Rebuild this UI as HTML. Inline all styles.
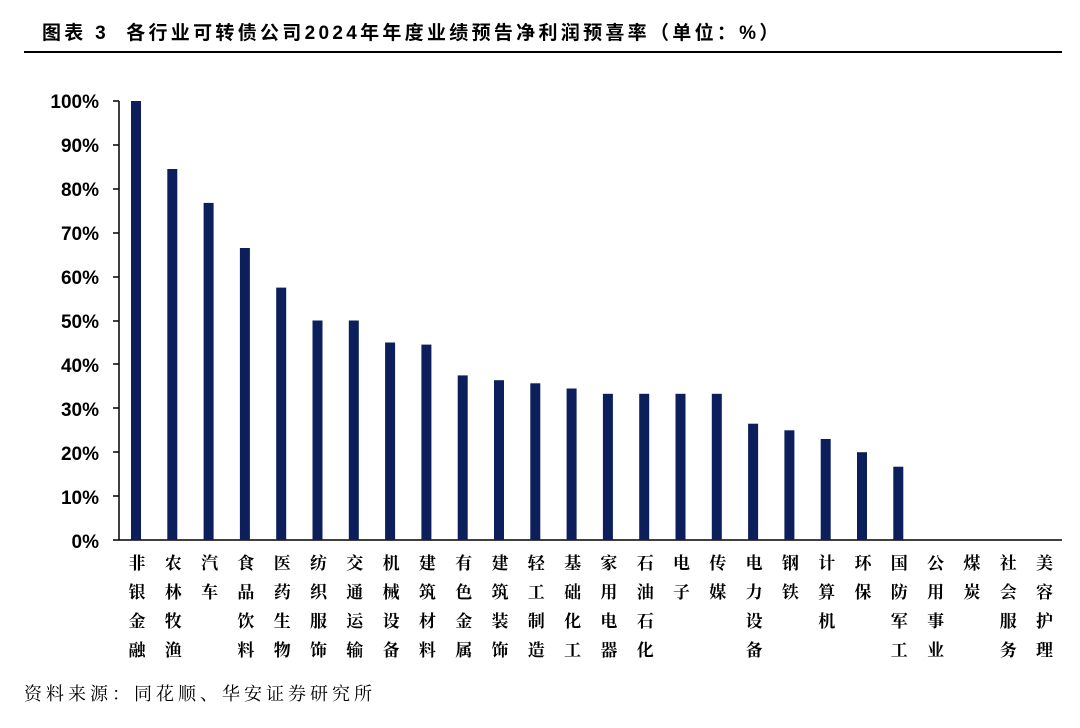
<!DOCTYPE html>
<html><head><meta charset="utf-8"><style>
body{margin:0;background:#fff;width:1080px;height:723px;overflow:hidden}
</style></head><body>
<svg width="1080" height="723" xmlns="http://www.w3.org/2000/svg">
<text x="42" y="39" font-family="'Liberation Sans','Noto Sans CJK SC',sans-serif" font-weight="bold" font-size="19" letter-spacing="3.3" fill="#000">图表 3&#160;&#160;各行业可转债公司2024年年度业绩预告净利润预喜率（单位：%）</text>
<line x1="24" y1="52" x2="1062" y2="52" stroke="#000" stroke-width="2"/>
<g font-family="'Liberation Sans',sans-serif" font-weight="bold" font-size="19" fill="#000" text-anchor="end">
<text x="99" y="108">100%</text><text x="99" y="152">90%</text><text x="99" y="196">80%</text><text x="99" y="240">70%</text><text x="99" y="284">60%</text><text x="99" y="328">50%</text><text x="99" y="372">40%</text><text x="99" y="416">30%</text><text x="99" y="460">20%</text><text x="99" y="504">10%</text><text x="99" y="548">0%</text>
</g>
<g stroke="#000" stroke-width="1.5">
<line x1="119" y1="101" x2="119" y2="540"/>
<line x1="113" y1="540" x2="1062" y2="540"/>
<line x1="113" y1="101" x2="119" y2="101"/><line x1="113" y1="145" x2="119" y2="145"/><line x1="113" y1="189" x2="119" y2="189"/><line x1="113" y1="233" x2="119" y2="233"/><line x1="113" y1="277" x2="119" y2="277"/><line x1="113" y1="321" x2="119" y2="321"/><line x1="113" y1="364" x2="119" y2="364"/><line x1="113" y1="408" x2="119" y2="408"/><line x1="113" y1="452" x2="119" y2="452"/><line x1="113" y1="496" x2="119" y2="496"/>
</g>
<g fill="#0c1f5c">
<rect x="131" y="101" width="10" height="439"/>
<rect x="167.3" y="169" width="10" height="371"/>
<rect x="203.6" y="202.9" width="10" height="337.1"/>
<rect x="239.9" y="248" width="10" height="292"/>
<rect x="276.2" y="287.6" width="10" height="252.4"/>
<rect x="312.5" y="320.5" width="10" height="219.5"/>
<rect x="348.8" y="320.5" width="10" height="219.5"/>
<rect x="385.1" y="342.5" width="10" height="197.5"/>
<rect x="421.4" y="344.6" width="10" height="195.4"/>
<rect x="457.7" y="375.4" width="10" height="164.6"/>
<rect x="494" y="380.2" width="10" height="159.8"/>
<rect x="530.3" y="383.3" width="10" height="156.7"/>
<rect x="566.6" y="388.5" width="10" height="151.5"/>
<rect x="602.9" y="393.8" width="10" height="146.2"/>
<rect x="639.2" y="393.8" width="10" height="146.2"/>
<rect x="675.5" y="393.8" width="10" height="146.2"/>
<rect x="711.8" y="393.8" width="10" height="146.2"/>
<rect x="748.1" y="423.7" width="10" height="116.3"/>
<rect x="784.4" y="430.3" width="10" height="109.7"/>
<rect x="820.7" y="439" width="10" height="101"/>
<rect x="857" y="452.2" width="10" height="87.8"/>
<rect x="893.3" y="466.7" width="10" height="73.3"/>
</g>
<g font-family="'Noto Serif CJK SC',serif" font-weight="bold" font-size="17" fill="#000" text-anchor="middle">
<text y="569"><tspan x="137">非</tspan><tspan x="137" dy="29">银</tspan><tspan x="137" dy="29">金</tspan><tspan x="137" dy="29">融</tspan></text>
<text y="569"><tspan x="173.3">农</tspan><tspan x="173.3" dy="29">林</tspan><tspan x="173.3" dy="29">牧</tspan><tspan x="173.3" dy="29">渔</tspan></text>
<text y="569"><tspan x="209.6">汽</tspan><tspan x="209.6" dy="29">车</tspan></text>
<text y="569"><tspan x="245.9">食</tspan><tspan x="245.9" dy="29">品</tspan><tspan x="245.9" dy="29">饮</tspan><tspan x="245.9" dy="29">料</tspan></text>
<text y="569"><tspan x="282.2">医</tspan><tspan x="282.2" dy="29">药</tspan><tspan x="282.2" dy="29">生</tspan><tspan x="282.2" dy="29">物</tspan></text>
<text y="569"><tspan x="318.5">纺</tspan><tspan x="318.5" dy="29">织</tspan><tspan x="318.5" dy="29">服</tspan><tspan x="318.5" dy="29">饰</tspan></text>
<text y="569"><tspan x="354.8">交</tspan><tspan x="354.8" dy="29">通</tspan><tspan x="354.8" dy="29">运</tspan><tspan x="354.8" dy="29">输</tspan></text>
<text y="569"><tspan x="391.1">机</tspan><tspan x="391.1" dy="29">械</tspan><tspan x="391.1" dy="29">设</tspan><tspan x="391.1" dy="29">备</tspan></text>
<text y="569"><tspan x="427.4">建</tspan><tspan x="427.4" dy="29">筑</tspan><tspan x="427.4" dy="29">材</tspan><tspan x="427.4" dy="29">料</tspan></text>
<text y="569"><tspan x="463.7">有</tspan><tspan x="463.7" dy="29">色</tspan><tspan x="463.7" dy="29">金</tspan><tspan x="463.7" dy="29">属</tspan></text>
<text y="569"><tspan x="500">建</tspan><tspan x="500" dy="29">筑</tspan><tspan x="500" dy="29">装</tspan><tspan x="500" dy="29">饰</tspan></text>
<text y="569"><tspan x="536.3">轻</tspan><tspan x="536.3" dy="29">工</tspan><tspan x="536.3" dy="29">制</tspan><tspan x="536.3" dy="29">造</tspan></text>
<text y="569"><tspan x="572.6">基</tspan><tspan x="572.6" dy="29">础</tspan><tspan x="572.6" dy="29">化</tspan><tspan x="572.6" dy="29">工</tspan></text>
<text y="569"><tspan x="608.9">家</tspan><tspan x="608.9" dy="29">用</tspan><tspan x="608.9" dy="29">电</tspan><tspan x="608.9" dy="29">器</tspan></text>
<text y="569"><tspan x="645.2">石</tspan><tspan x="645.2" dy="29">油</tspan><tspan x="645.2" dy="29">石</tspan><tspan x="645.2" dy="29">化</tspan></text>
<text y="569"><tspan x="681.5">电</tspan><tspan x="681.5" dy="29">子</tspan></text>
<text y="569"><tspan x="717.8">传</tspan><tspan x="717.8" dy="29">媒</tspan></text>
<text y="569"><tspan x="754.1">电</tspan><tspan x="754.1" dy="29">力</tspan><tspan x="754.1" dy="29">设</tspan><tspan x="754.1" dy="29">备</tspan></text>
<text y="569"><tspan x="790.4">钢</tspan><tspan x="790.4" dy="29">铁</tspan></text>
<text y="569"><tspan x="826.7">计</tspan><tspan x="826.7" dy="29">算</tspan><tspan x="826.7" dy="29">机</tspan></text>
<text y="569"><tspan x="863">环</tspan><tspan x="863" dy="29">保</tspan></text>
<text y="569"><tspan x="899.3">国</tspan><tspan x="899.3" dy="29">防</tspan><tspan x="899.3" dy="29">军</tspan><tspan x="899.3" dy="29">工</tspan></text>
<text y="569"><tspan x="935.6">公</tspan><tspan x="935.6" dy="29">用</tspan><tspan x="935.6" dy="29">事</tspan><tspan x="935.6" dy="29">业</tspan></text>
<text y="569"><tspan x="971.9">煤</tspan><tspan x="971.9" dy="29">炭</tspan></text>
<text y="569"><tspan x="1008.2">社</tspan><tspan x="1008.2" dy="29">会</tspan><tspan x="1008.2" dy="29">服</tspan><tspan x="1008.2" dy="29">务</tspan></text>
<text y="569"><tspan x="1044.5">美</tspan><tspan x="1044.5" dy="29">容</tspan><tspan x="1044.5" dy="29">护</tspan><tspan x="1044.5" dy="29">理</tspan></text>
</g>
<text x="24" y="700" font-family="'Noto Serif CJK SC',serif" font-size="18" letter-spacing="4" fill="#000">资料来源：同花顺、华安证券研究所</text>
</svg>
</body></html>
